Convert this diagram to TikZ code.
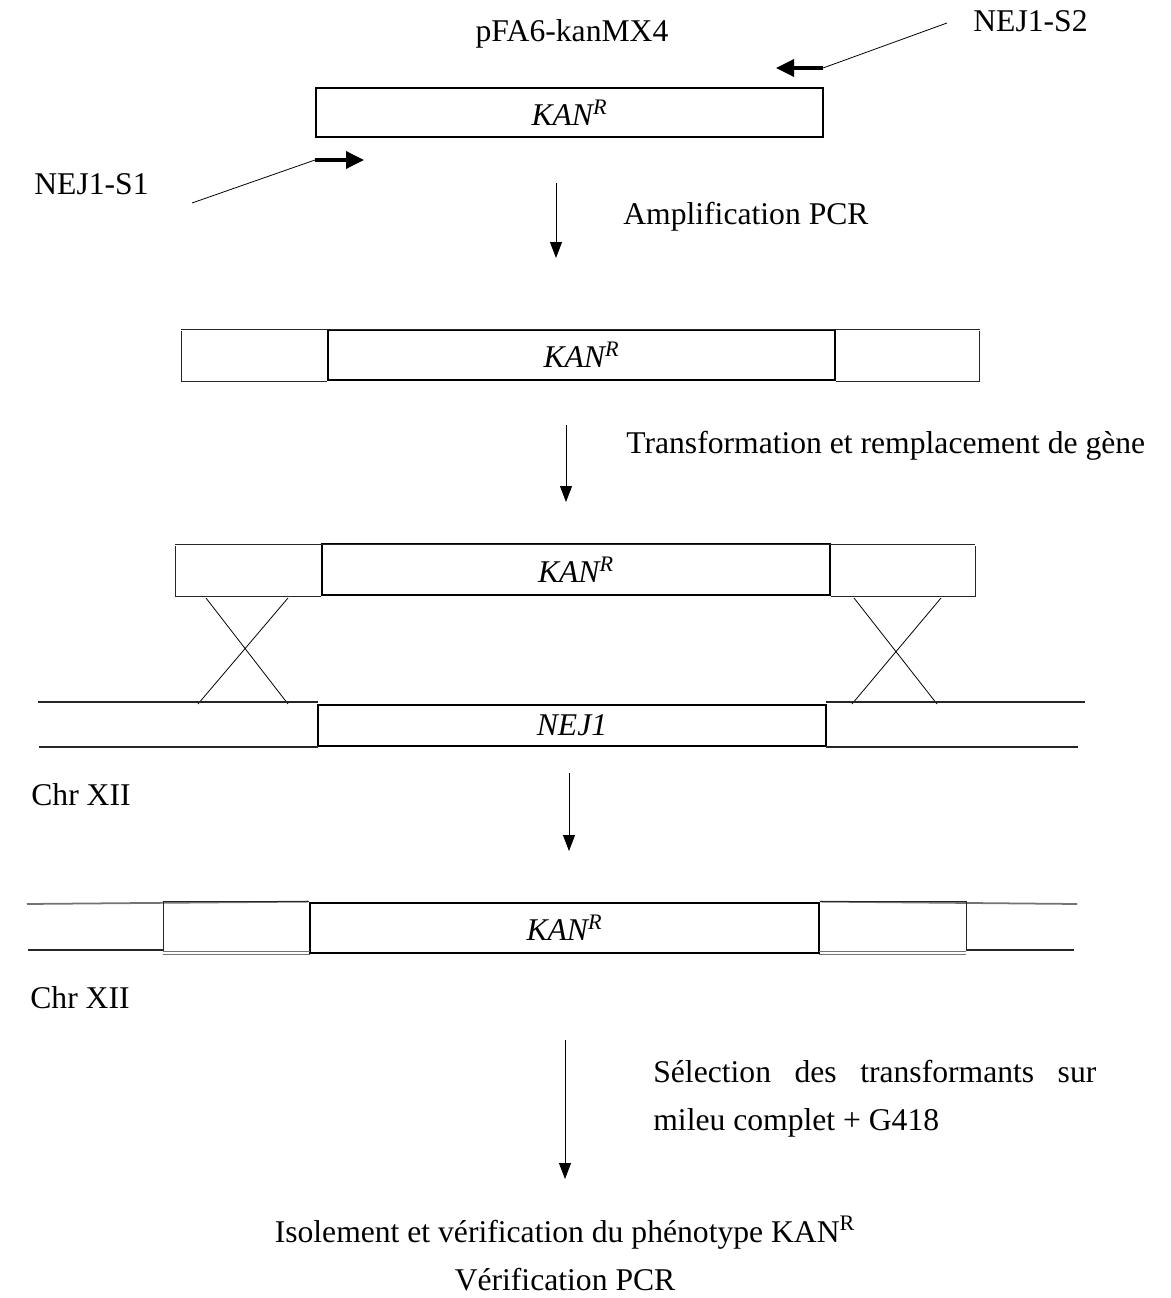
\documentclass[tikz,border=0pt]{standalone}
\usepackage{fontspec}
\setmainfont{Liberation Serif}
\usetikzlibrary{positioning,arrows.meta,calc}

\begin{document}
\begin{tikzpicture}[
  x=0.2mm, y=-0.2mm,
  font=\fontsize{18}{27}\selectfont,
  lbl/.style  ={inner sep=0pt},
  gene/.style ={rectangle, draw=black, line width=1.6pt, inner sep=0pt,
                font=\fontsize{18}{22}\selectfont\itshape},
  flank/.style={draw=black!85, line width=0.55pt},
  chr/.style  ={draw=black!85, line width=0.6pt},
  xover/.style={draw=black, line width=0.45pt},
  down/.style ={-{Triangle[length=3.2mm, width=2.4mm]}, line width=0.5pt},
  primer/.style={-{Triangle[length=3.6mm, width=3.4mm]}, line width=2pt},
  pointer/.style={draw=black, line width=0.45pt},
]
\useasboundingbox (0,0) rectangle (1171,1298);

% -------- plasmid template and primers ----------------------------------
\node[lbl, anchor=base] (plasmid) at (572,42) {pFA6-kanMX4};
\node[gene, minimum width=101.4mm, minimum height=9.8mm] (kan1) at (569.5,112.5)
     {KAN\textsuperscript{R}};

\node[lbl, anchor=base west] (s2lbl) at (973,32) {NEJ1-S2};
\coordinate (s2end) at (947,23);
\coordinate (s2a) at (823,68);
\coordinate (s2b) at (776,68);
\draw[primer]  (s2a) -- (s2b);
\draw[pointer] (s2end) -- (s2a);

\node[lbl, anchor=base west] (s1lbl) at (34,195) {NEJ1-S1};
\coordinate (s1end) at (192,203);
\coordinate (s1a) at (315,160);
\coordinate (s1b) at (364,160);
\draw[primer]  (s1a) -- (s1b);
\draw[pointer] (s1end) -- (s1a);

% step 1
\coordinate (a1s) at (556,183);
\coordinate (a1e) at (556,258);
\draw[down] (a1s) -- (a1e);
\node[lbl, anchor=base west] (amp) at (623,224) {Amplification PCR};

% -------- PCR product with homology arms ---------------------------------
\node[gene, minimum width=101.4mm, minimum height=10mm] (kan2) at (581.5,355)
     {KAN\textsuperscript{R}};
\draw[flank] (181,329) -- (980,329);
\draw[flank] (181,331) |- (kan2.south west);
\draw[flank] (979,331) |- (kan2.south east);

% step 2
\coordinate (a2s) at (566,425);
\coordinate (a2e) at (566,502);
\draw[down] (a2s) -- (a2e);
\node[lbl, anchor=base west] (transf) at (626,453)
     {Transformation et remplacement de gène};

% -------- recombination with the chromosome ------------------------------
\node[gene, minimum width=101.6mm, minimum height=10.2mm] (kan3) at (576,569.5)
     {KAN\textsuperscript{R}};
\draw[flank] (175,544) -- (975,544);
\draw[flank] (175,546) |- (kan3.south west);
\draw[flank] (975,546) |- (kan3.south east);

% crossing-over
\draw[xover] (206,598) -- (288,704);
\draw[xover] (288,598) -- (198,704);
\draw[xover] (854,598) -- (937,704);
\draw[xover] (941,598) -- (852,704);

\node[gene, minimum width=101.6mm, minimum height=8.2mm] (nej) at (572,725.5)
     {NEJ1};
\draw[chr] (38,702)  -- (318,702);
\draw[chr] (826,702) -- (1085,702);
\draw[chr] (39,747)  -- (318,747);
\draw[chr] (826,747) -- (1078,747);
\node[lbl, anchor=base west] (chr1) at (31,805) {Chr XII};

% step 3
\coordinate (a3s) at (569,773);
\coordinate (a3e) at (569,851);
\draw[down] (a3s) -- (a3e);

% -------- disrupted locus -------------------------------------------------
\node[gene, minimum width=101.8mm, minimum height=10mm] (kan5) at (564.5,928)
     {KAN\textsuperscript{R}};
\draw[chr, black!55, line width=1pt] (27,904) -- (kan5.north west);
\draw[chr, black!55, line width=1pt] (kan5.north east) -- (1077,904);
\draw[chr] (28,950)  -- (163,950);
\draw[chr] (966,950) -- (1074,950);
% left arm
\draw[flank] (163,951) |- (kan5.north west);
\draw[flank, black!55] (163,951) -- (310,951);
\draw[flank, black!55] (163,954) -- (310,954);
% right arm
\draw[flank] (966,951) |- (kan5.north east);
\draw[flank, black!55] (819,951) -- (966,951);
\draw[flank, black!55] (819,954) -- (966,954);
\node[lbl, anchor=base west] (chr2) at (30,1008) {Chr XII};

% step 4
\coordinate (a4s) at (565,1040);
\coordinate (a4e) at (565,1179);
\draw[down] (a4s) -- (a4e);
\node[lbl, anchor=north west, text width=88.6mm, align=justify] (sel) at (653,1060)
     {Sélection des transformants sur\linebreak mileu complet + G418};

% -------- final screening -------------------------------------------------
\node[lbl, anchor=base] (iso) at (565,1242)
     {Isolement et vérification du phénotype KAN\textsuperscript{R}};
\node[lbl, anchor=base] (verif) at (565,1290) {Vérification PCR};

\end{tikzpicture}
\end{document}
